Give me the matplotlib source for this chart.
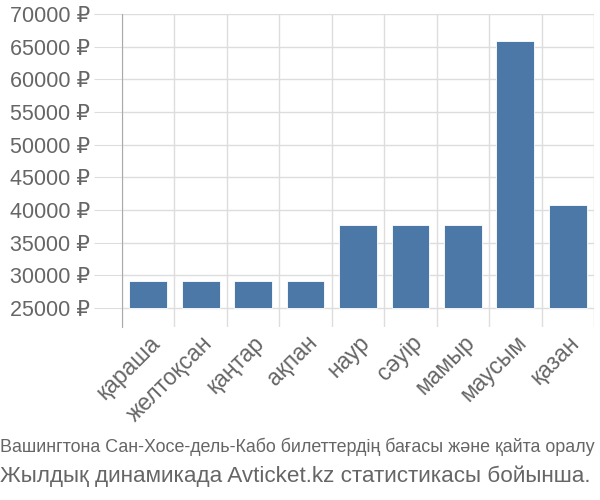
import matplotlib
matplotlib.use("Agg")
import matplotlib.pyplot as plt
from matplotlib.ticker import FuncFormatter

# Data
months = ["қараша", "желтоқсан", "қаңтар", "ақпан", "наур", "сәуір", "мамыр", "маусым", "қазан"]
prices = [29200, 29200, 29200, 29200, 37700, 37700, 37700, 65900, 40800]
y_ticks = [25000, 30000, 35000, 40000, 45000, 50000, 55000, 60000, 65000, 70000]
base = 25000

caption_1 = "Вашингтона Сан-Хосе-дель-Кабо билеттердің бағасы және қайта оралу"
caption_2 = "Жылдық динамикада Avticket.kz статистикасы бойынша."

plt.rcParams["font.family"] = ["Liberation Sans", "DejaVu Sans"]
text_color = "#666666"
grid_color = "#dddddd"
bar_color = "#4c78a8"

fig = plt.figure(figsize=(6, 5), dpi=100)
ax = fig.add_axes([0.2033, 0.346, 0.7867, 0.626])

x = list(range(len(months)))
ax.bar(x, [p - base for p in prices], bottom=base, width=0.72,
       color=bar_color, edgecolor="white", linewidth=0.6, zorder=3)

ax.set_xlim(-0.5, len(months) - 0.5)
ax.set_ylim(22100, 70000)
ax.set_yticks(y_ticks)
ax.yaxis.set_major_formatter(FuncFormatter(lambda v, _: f"{int(v)} ₽"))

# vertical grid lines sit between categories
ax.set_xticks([i - 0.5 for i in range(len(months) + 1)], minor=False)
ax.set_xticklabels([])
ax.set_xticks(x, minor=True)
ax.set_xticklabels(months, minor=True, rotation=45, ha="right",
                   rotation_mode="anchor", fontsize=16.5, color=text_color)
ax.tick_params(axis="x", which="major", length=0)
ax.tick_params(axis="x", which="minor", length=0, pad=3)
ax.tick_params(axis="y", length=20, color=grid_color, labelsize=15.5,
               labelcolor=text_color, pad=3)

ax.grid(True, which="major", color=grid_color, linewidth=1, zorder=0)
for side in ["top", "right", "bottom"]:
    ax.spines[side].set_visible(False)
ax.spines["left"].set_color("#aaaaaa")

fig.text(0.0, 1 - 452 / 500, caption_1, fontsize=12.9, color=text_color,
         ha="left", va="baseline")
fig.text(0.0, 1 - 482 / 500, caption_2, fontsize=16.2, color=text_color,
         ha="left", va="baseline")

fig.savefig("out.png", dpi=100)
